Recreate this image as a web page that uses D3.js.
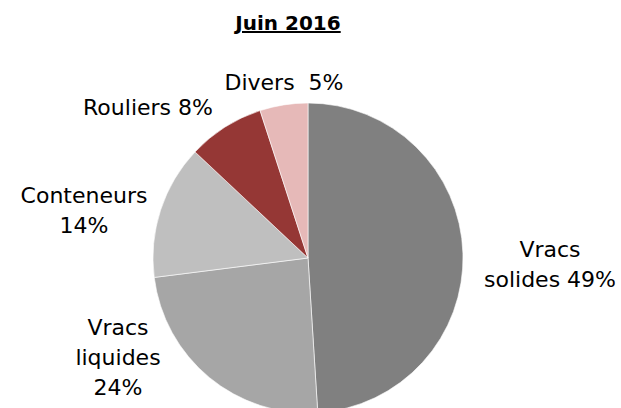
<!DOCTYPE html>
<html>
<head>
<meta charset="utf-8">
<title>Juin 2016</title>
<style>
  body { margin: 0; background: #fff; }
  svg { font-family: "DejaVu Sans", Verdana, sans-serif; }
  .title { font-size: 20px; font-weight: bold; }
  .lbl { font-size: 22px; fill: #000; white-space: pre; }
</style>
</head>
<body>
<div id="chart"></div>
<script src="https://cdn.jsdelivr.net/npm/d3@7"></script>
<script>
// data
var categories = ["Vracs solides", "Vracs liquides", "Conteneurs", "Rouliers", "Divers"];
var shares = [49, 24, 14, 8, 5];
var colors = ["#808080", "#a6a6a6", "#bfbfbf", "#953735", "#e6b9b8"];
// label text lines, as they are broken in the picture
var labelLines = [
  ["Vracs", "solides 49%"],
  ["Vracs", "liquides", "24%"],
  ["Conteneurs", "14%"],
  ["Rouliers 8%"],
  ["Divers  5%"]
];

var width = 621, height = 408;
var cx = 308, cy = 258, radius = 155;
// where each label block sits (x center, first baseline)
var labelPos = [[550, 257], [118, 335], [84, 203], [148, 115], [284, 90]];
var lineH = 30;

var svg = d3.select("#chart").append("svg")
  .attr("width", width)
  .attr("height", height);

svg.append("text")
  .attr("class", "title")
  .attr("x", 288)
  .attr("y", 30)
  .attr("text-anchor", "middle")
  .attr("text-decoration", "underline")
  .text("Juin 2016");

var pie = d3.pie().sort(null).value(function(d) { return d; });
var arc = d3.arc().innerRadius(0).outerRadius(radius);

var g = svg.append("g").attr("transform", "translate(" + cx + "," + cy + ")");

g.selectAll("path")
  .data(pie(shares))
  .enter().append("path")
  .attr("d", arc)
  .attr("fill", function(d, i) { return colors[i]; })
  .attr("stroke", "#fff")
  .attr("stroke-width", 0.6);

var labels = svg.selectAll("text.lbl")
  .data(categories)
  .enter().append("text")
  .attr("class", "lbl")
  .attr("text-anchor", "middle")
  .attr("x", function(d, i) { return labelPos[i][0]; })
  .attr("y", function(d, i) { return labelPos[i][1]; });

labels.each(function(d, i) {
  var t = d3.select(this);
  labelLines[i].forEach(function(line, k) {
    t.append("tspan")
      .attr("x", labelPos[i][0])
      .attr("y", labelPos[i][1] + k * lineH)
      .text(line);
  });
});
</script>
</body>
</html>
